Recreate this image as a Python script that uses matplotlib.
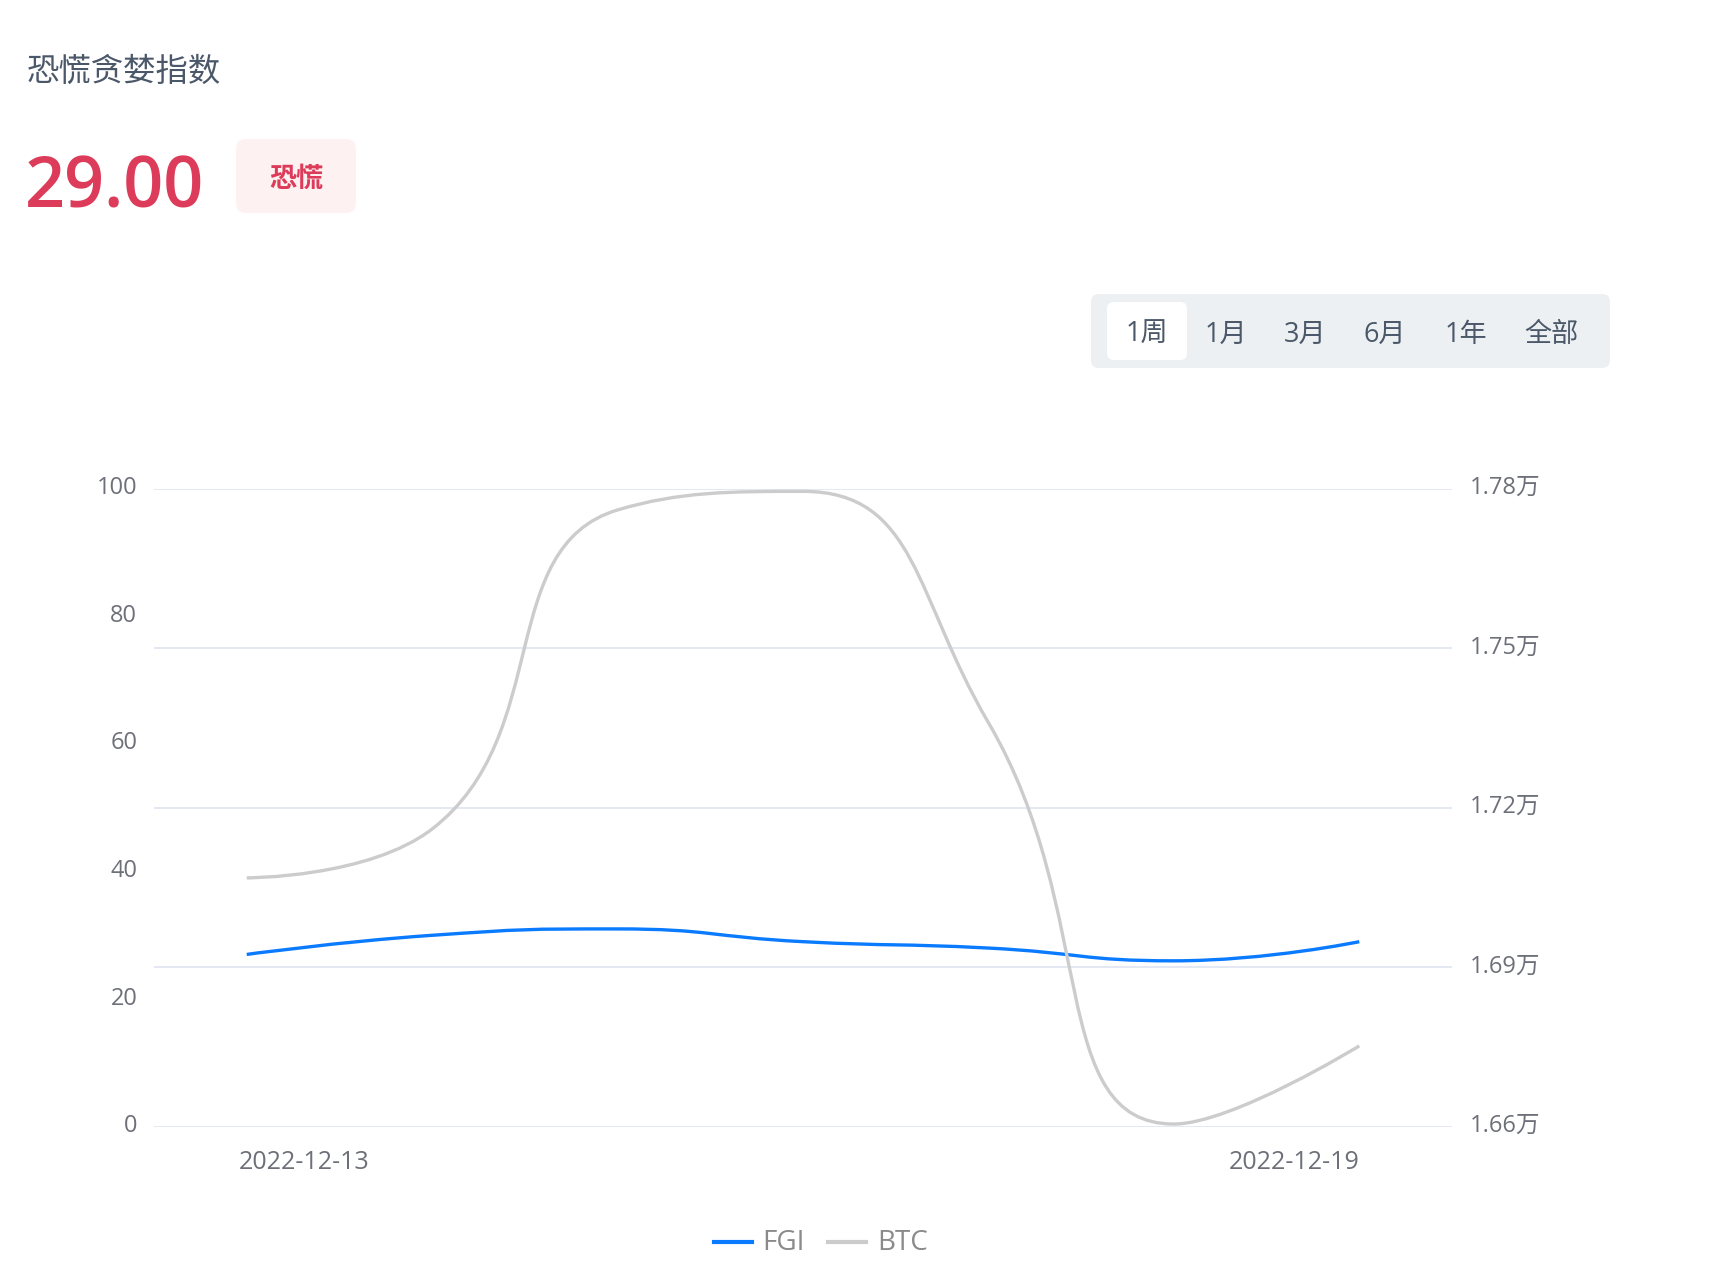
import matplotlib
matplotlib.use('Agg')
import matplotlib.pyplot as plt
from matplotlib.path import Path
from matplotlib.patches import PathPatch, FancyBboxPatch
from matplotlib.lines import Line2D
from matplotlib.transforms import ScaledTranslation
import numpy as np

plt.rcParams['font.family'] = ['Open Sans', 'Noto Sans CJK SC', 'DejaVu Sans']

# ---------------- data ----------------
title = '恐慌贪婪指数'
current_value = 29.00
current_label = '恐慌'
range_buttons = ['1周', '1月', '3月', '6月', '1年', '全部']
dates = ['2022-12-13', '2022-12-14', '2022-12-15', '2022-12-16',
         '2022-12-17', '2022-12-18', '2022-12-19']
fgi = [27, 30, 31, 29, 28, 26, 29]
btc = [17068, 17160, 17760, 17795, 17360, 16605, 16752]
left_ticks = [0, 20, 40, 60, 80, 100]
right_ticks = [16600, 16900, 17200, 17500, 17800]
series_names = ['FGI', 'BTC']

# ---------------- style ----------------
C_FGI = '#0a7aff'
C_BTC = '#cccccc'
C_GRID = '#e0e6f1'
C_AXIS = '#6e7079'
C_TITLE = '#4b5869'
C_RED = '#dc3b5a'

W, H = 1725, 1266
fig = plt.figure(figsize=(W / 100, H / 100), dpi=100)

# overlay in pixel coordinates (origin top-left)
ov = fig.add_axes([0, 0, 1, 1])
ov.set_xlim(0, W)
ov.set_ylim(H, 0)
ov.axis('off')

ov.text(27, 71.5, title, fontsize=23.3, color=C_TITLE, ha='left', va='center',
        family=['Noto Sans CJK SC'])
ov.text(25, 207, f'{current_value:.2f}', fontsize=50.5, color=C_RED, ha='left',
        va='baseline', fontweight='semibold')
ov.add_patch(FancyBboxPatch((236, 139), 120, 74, boxstyle='round,pad=0,rounding_size=10',
                            fc='#fdf1f1', ec='none'))
ov.text(296, 179, current_label, fontsize=19.5, color=C_RED, ha='center', va='center',
        fontweight='bold', family=['Noto Sans CJK SC'])

# range buttons
ov.add_patch(FancyBboxPatch((1091, 294), 519, 74, boxstyle='round,pad=0,rounding_size=8',
                            fc='#edf0f3', ec='none'))
ov.add_patch(FancyBboxPatch((1107, 302), 80, 58, boxstyle='round,pad=0,rounding_size=7',
                            fc='white', ec='none'))
btn_x = [1147, 1226, 1305, 1385, 1466, 1551]
for bx, lab in zip(btn_x, range_buttons):
    ov.text(bx, 335, lab, fontsize=19.5, color=C_TITLE, ha='center', va='center')

# ---------------- chart ----------------
left, right, top, bottom = 154, 1452, 488.7, 1126.7
ax = fig.add_axes([left / W, 1 - bottom / H, (right - left) / W, (bottom - top) / H])
ax2 = ax.twinx()
x = np.arange(len(dates))
for a in (ax, ax2):
    a.set_xlim(-0.5, len(dates) - 0.5)
    for s in a.spines.values():
        s.set_visible(False)
    a.patch.set_visible(False)
ax.set_ylim(0, 100)
ax2.set_ylim(right_ticks[0], right_ticks[-1])

ax.set_yticks(left_ticks)
ax.set_yticklabels([str(v) for v in left_ticks])
ax.tick_params(axis='y', length=0, pad=12, labelsize=17, labelcolor=C_AXIS)
ax2.set_yticks(right_ticks)
ax2.set_yticklabels([f'{v / 10000:.2f}万' for v in right_ticks])
ax2.tick_params(axis='y', length=0, pad=13, labelsize=17, labelcolor=C_AXIS)
ax2.grid(axis='y', color=C_GRID, lw=1.3)
ax2.set_axisbelow(True)

up = ScaledTranslation(0, 3.5 / 100, fig.dpi_scale_trans)
for lab in ax.get_yticklabels() + ax2.get_yticklabels():
    lab.set_transform(lab.get_transform() + up)

ax.set_xticks([0, len(dates) - 1])
ax.set_xticklabels([dates[0], dates[-1]])
ax.tick_params(axis='x', length=0, pad=17, labelsize=18, labelcolor=C_AXIS)
tl = ax.get_xticklabels()
tl[0].set_ha('left')
tl[0].set_transform(tl[0].get_transform() + ScaledTranslation(-8 / 100, 0, fig.dpi_scale_trans))
tl[-1].set_ha('right')
ax2.tick_params(axis='x', length=0, labelbottom=False)


def echarts_smooth(axis, xs, ys, smooth=0.5):
    pts = axis.transData.transform(np.column_stack([xs, ys]))
    n = len(pts)
    verts = [tuple(pts[0])]
    codes = [Path.MOVETO]
    cp0 = tuple(pts[0])
    for i in range(1, n):
        xx, yy = pts[i]
        px, py = pts[i - 1]
        if i == n - 1:
            c1 = (xx, yy)
            ncp = (xx, yy)
        else:
            nx, ny = pts[i + 1]
            vx, vy = nx - px, ny - py
            lp = np.hypot(xx - px, yy - py)
            ln = np.hypot(nx - xx, ny - yy)
            r = ln / (ln + lp)
            n0x = xx + vx * smooth * r
            n0y = yy + vy * smooth * r
            n0x = max(min(n0x, max(nx, xx)), min(nx, xx))
            n0y = max(min(n0y, max(ny, yy)), min(ny, yy))
            vx, vy = n0x - xx, n0y - yy
            c1x = xx - vx * lp / ln
            c1y = yy - vy * lp / ln
            c1x = max(min(c1x, max(px, xx)), min(px, xx))
            c1y = max(min(c1y, max(py, yy)), min(py, yy))
            vx, vy = xx - c1x, yy - c1y
            ncp = (xx + vx * ln / lp, yy + vy * ln / lp)
            c1 = (c1x, c1y)
        verts += [cp0, c1, (xx, yy)]
        codes += [Path.CURVE4] * 3
        cp0 = ncp
    vd = axis.transData.inverted().transform(np.array(verts))
    return Path(vd, codes)


ax.add_patch(PathPatch(echarts_smooth(ax, x, fgi), fill=False, ec=C_FGI, lw=2.4,
                       capstyle='butt', joinstyle='round', zorder=3))
ax2.add_patch(PathPatch(echarts_smooth(ax2, x, btc), fill=False, ec=C_BTC, lw=2.4,
                        capstyle='butt', joinstyle='round', zorder=3))

# ---------------- legend ----------------
ov.add_line(Line2D([714, 752], [1242, 1242], color=C_FGI, lw=3))
ov.text(762, 1243, series_names[0], fontsize=20, color='#8a8a8a', ha='left', va='center')
ov.add_line(Line2D([828, 866], [1242, 1242], color=C_BTC, lw=3))
ov.text(877, 1243, series_names[1], fontsize=20, color='#8a8a8a', ha='left', va='center')

fig.savefig('out.png', dpi=100, facecolor='white')
